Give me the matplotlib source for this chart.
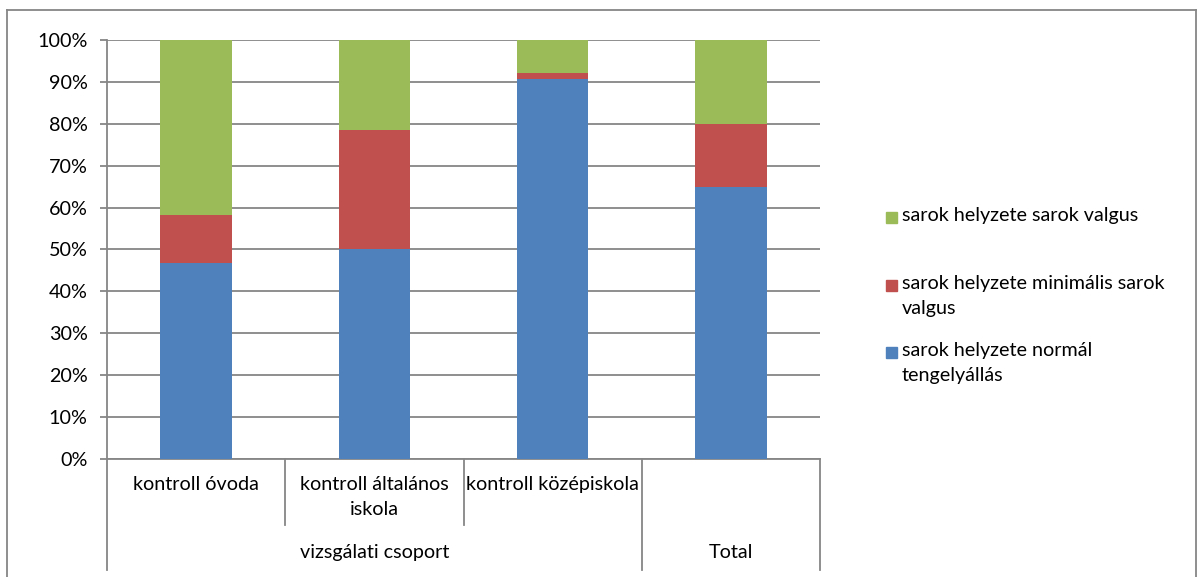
import numpy as np
import matplotlib.pyplot as plt
from matplotlib.lines import Line2D
from matplotlib.patches import Rectangle

plt.rcParams['font.family'] = ['Lato', 'DejaVu Sans']

# data (percent of group)
groups = ["kontroll óvoda", "kontroll általános\niskola", "kontroll középiskola", ""]
parent_groups = ["vizsgálati csoport", "Total"]
normal = [46.7, 50.0, 90.8, 64.8]
minimal = [11.6, 28.6, 1.4, 15.1]
valgus = [41.7, 21.4, 7.8, 20.1]
series_names = ["sarok helyzete normál\ntengelyállás",
                "sarok helyzete minimális sarok\nvalgus",
                "sarok helyzete sarok valgus"]
colors = ["#4F81BD", "#C0504D", "#9BBB59"]
grid_col = "#868686"
fs = 14.2

W, H = 1197, 577
fig = plt.figure(figsize=(W / 100, H / 100), dpi=100)
ax = fig.add_axes([107 / W, 1 - 459 / H, (820 - 107) / W, (459 - 40) / H])

x = np.arange(len(groups))
bottom = np.zeros(len(groups))
for vals, c in zip([normal, minimal, valgus], colors):
    ax.bar(x, vals, width=0.4, bottom=bottom, color=c, zorder=3)
    bottom += np.array(vals)

ax.set_xlim(-0.5, 3.5)
ax.set_ylim(0, 100)
ax.set_yticks(np.arange(0, 101, 10))
ax.set_yticklabels([f"{v}%" for v in range(0, 101, 10)], fontsize=fs)
ax.yaxis.grid(True, color=grid_col, linewidth=1.3, zorder=0)
ax.tick_params(axis='y', length=5, width=1.3, color=grid_col, pad=9)
ax.set_xticks([])
for s in ['top', 'right']:
    ax.spines[s].set_visible(False)
for s in ['left', 'bottom']:
    ax.spines[s].set_color(grid_col)
    ax.spines[s].set_linewidth(1.3)

# category separators and labels below the axis
trans = ax.get_xaxis_transform()
for b in [0.5, 1.5]:
    ax.add_line(Line2D([b, b], [0, -0.1575], transform=trans, color=grid_col, lw=1.3, clip_on=False))
for b in [-0.5, 2.5, 3.5]:
    ax.add_line(Line2D([b, b], [0, -0.265], transform=trans, color=grid_col, lw=1.3, clip_on=False))
for i, g in enumerate(groups):
    ax.text(x[i], -0.041, g, transform=trans, ha='center', va='top', fontsize=fs, linespacing=1.55)
ax.text(1.0, -0.224, parent_groups[0], transform=trans, ha='center', va='center', fontsize=fs)
ax.text(3.0, -0.224, parent_groups[1], transform=trans, ha='center', va='center', fontsize=fs)

# legend drawn by hand to keep the spacing
leg_y = [352, 285, 217]
for name, c, yy in zip(series_names, colors, leg_y):
    fig.add_artist(Rectangle((886 / W, 1 - (yy + 5.5) / H), 11 / W, 11 / H,
                             transform=fig.transFigure, color=c))
    fig.text(902 / W, 1 - (yy - 10) / H, name, ha='left', va='top', fontsize=fs, linespacing=1.55)

# outer frame
fig.add_artist(Line2D([7 / W, 7 / W], [0, 1 - 10 / H], transform=fig.transFigure, color=grid_col, lw=1.3))
fig.add_artist(Line2D([7 / W, 1196 / W], [1 - 10 / H, 1 - 10 / H], transform=fig.transFigure, color=grid_col, lw=1.3))
fig.add_artist(Line2D([1196 / W, 1196 / W], [0, 1 - 10 / H], transform=fig.transFigure, color=grid_col, lw=1.3))

fig.savefig("out.png", dpi=100)
